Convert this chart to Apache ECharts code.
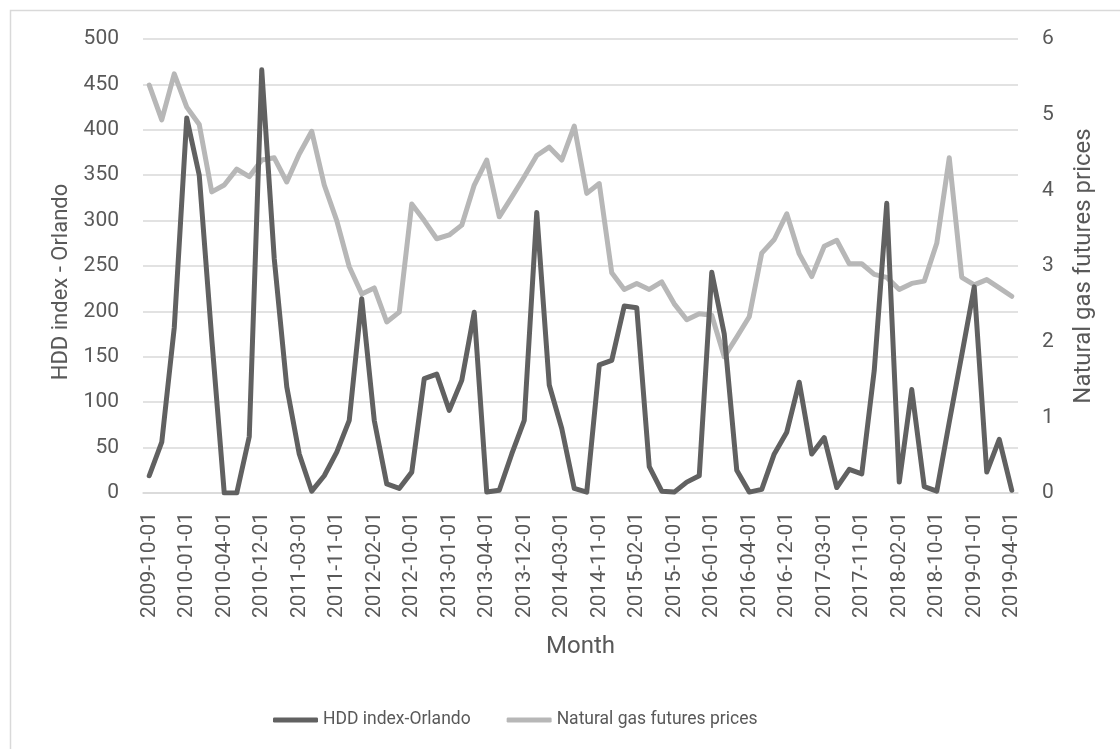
<!DOCTYPE html>
<html>
<head>
<meta charset="utf-8">
<title>HDD index - Orlando vs Natural gas futures prices</title>
<script src="https://cdn.jsdelivr.net/npm/echarts@6/dist/echarts.min.js"></script>
<style>
  html, body { margin: 0; padding: 0; background: #ffffff; }
  #chart { width: 1120px; height: 749px; }
</style>
</head>
<body>
<div id="chart"></div>
<script>
// Heating-season months (October to April), 2009-10 through 2019-04
const months = [
  '2009-10-01','2009-11-01','2009-12-01','2010-01-01','2010-02-01','2010-03-01','2010-04-01',
  '2010-10-01','2010-11-01','2010-12-01','2011-01-01','2011-02-01','2011-03-01','2011-04-01',
  '2011-10-01','2011-11-01','2011-12-01','2012-01-01','2012-02-01','2012-03-01','2012-04-01',
  '2012-10-01','2012-11-01','2012-12-01','2013-01-01','2013-02-01','2013-03-01','2013-04-01',
  '2013-10-01','2013-11-01','2013-12-01','2014-01-01','2014-02-01','2014-03-01','2014-04-01',
  '2014-10-01','2014-11-01','2014-12-01','2015-01-01','2015-02-01','2015-03-01','2015-04-01',
  '2015-10-01','2015-11-01','2015-12-01','2016-01-01','2016-02-01','2016-03-01','2016-04-01',
  '2016-10-01','2016-11-01','2016-12-01','2017-01-01','2017-02-01','2017-03-01','2017-04-01',
  '2017-10-01','2017-11-01','2017-12-01','2018-01-01','2018-02-01','2018-03-01','2018-04-01',
  '2018-10-01','2018-11-01','2018-12-01','2019-01-01','2019-02-01','2019-03-01','2019-04-01'
];

// Heating degree days, Orlando
const hddOrlando = [
  19, 56, 182, 413, 350, 170, 0,
  0, 62, 466, 258, 117, 43, 2,
  19, 45, 80, 214, 80, 10, 5,
  23, 126, 131, 91, 124, 199, 1,
  3, 43, 80, 309, 119, 71, 5,
  1, 141, 146, 206, 204, 29, 2,
  1, 12, 19, 243, 175, 25, 1,
  4, 43, 67, 122, 43, 61, 6,
  26, 21, 135, 319, 12, 114, 7,
  2, 78, 152, 227, 23, 59, 3
];

// Natural gas futures prices
const gasFutures = [
  5.39, 4.93, 5.54, 5.10, 4.87, 3.98, 4.07,
  4.28, 4.18, 4.40, 4.43, 4.11, 4.48, 4.78,
  4.07, 3.60, 2.99, 2.63, 2.71, 2.26, 2.39,
  3.82, 3.60, 3.36, 3.41, 3.54, 4.07, 4.40,
  3.65, 3.91, 4.18, 4.46, 4.57, 4.40, 4.85,
  3.96, 4.09, 2.91, 2.69, 2.77, 2.69, 2.79,
  2.50, 2.29, 2.37, 2.35, 1.80, 2.06, 2.33,
  3.17, 3.35, 3.69, 3.16, 2.86, 3.26, 3.34,
  3.03, 3.03, 2.89, 2.85, 2.69, 2.77, 2.80,
  3.30, 4.43, 2.85, 2.75, 2.82, 2.71, 2.60
];

const seriesNames = ['HDD index-Orlando', 'Natural gas futures prices'];
const seriesColors = ['#616161', '#b7b7b7'];

const FONT = 'Roboto';
const TEXT = '#595959';
const GRID_LINE = '#d9d9d9';

const chart = echarts.init(document.getElementById('chart'), null, { renderer: 'canvas' });

chart.setOption({
  animation: false,
  backgroundColor: '#ffffff',
  textStyle: { fontFamily: FONT, color: TEXT },
  graphic: [{
    type: 'rect',
    silent: true,
    shape: { x: 10.5, y: 10.5, width: 1300, height: 900 },
    style: { fill: 'none', stroke: GRID_LINE, lineWidth: 1.5 }
  }],
  grid: { left: 143, right: 102, top: 39, bottom: 256, containLabel: false },
  legend: {
    left: 268,
    top: 706,
    itemWidth: 45,
    itemHeight: 5,
    itemGap: 36,
    icon: 'roundRect',
    textStyle: { fontFamily: FONT, fontSize: 17.5, color: TEXT },
    data: seriesNames
  },
  xAxis: {
    type: 'category',
    data: months,
    boundaryGap: true,
    name: 'Month',
    nameLocation: 'middle',
    nameGap: 142,
    nameTextStyle: { fontFamily: FONT, fontSize: 24, color: TEXT },
    axisLine: { show: true, lineStyle: { color: GRID_LINE, width: 1.5 } },
    axisTick: { show: false },
    axisLabel: {
      interval: 2,
      rotate: 90,
      margin: 19,
      fontFamily: FONT,
      fontSize: 21,
      color: TEXT
    },
    splitLine: { show: false }
  },
  yAxis: [{
    type: 'value',
    min: 0,
    max: 500,
    interval: 50,
    name: 'HDD index - Orlando',
    nameLocation: 'middle',
    nameGap: 70,
    nameTextStyle: { fontFamily: FONT, fontSize: 22, color: TEXT, padding: [0, 32, 0, 0] },
    axisLine: { show: false },
    axisTick: { show: false },
    axisLabel: { margin: 24, fontFamily: FONT, fontSize: 21, color: TEXT },
    splitLine: { show: true, lineStyle: { color: GRID_LINE, width: 1.5 } }
  }, {
    type: 'value',
    position: 'right',
    min: 0,
    max: 6,
    interval: 1,
    name: 'Natural gas futures prices',
    nameLocation: 'middle',
    nameGap: 54,
    nameTextStyle: { fontFamily: FONT, fontSize: 24, color: TEXT },
    axisLine: { show: false },
    axisTick: { show: false },
    axisLabel: { margin: 24, fontFamily: FONT, fontSize: 21, color: TEXT },
    splitLine: { show: false }
  }],
  series: [{
    name: seriesNames[0],
    type: 'line',
    yAxisIndex: 0,
    data: hddOrlando,
    symbol: 'none',
    color: seriesColors[0],
    lineStyle: { width: 5, color: seriesColors[0], cap: 'round', join: 'round' },
    z: 3
  }, {
    name: seriesNames[1],
    type: 'line',
    yAxisIndex: 1,
    data: gasFutures,
    symbol: 'none',
    color: seriesColors[1],
    lineStyle: { width: 5, color: seriesColors[1], cap: 'round', join: 'round' },
    z: 2
  }]
});
</script>
</body>
</html>
